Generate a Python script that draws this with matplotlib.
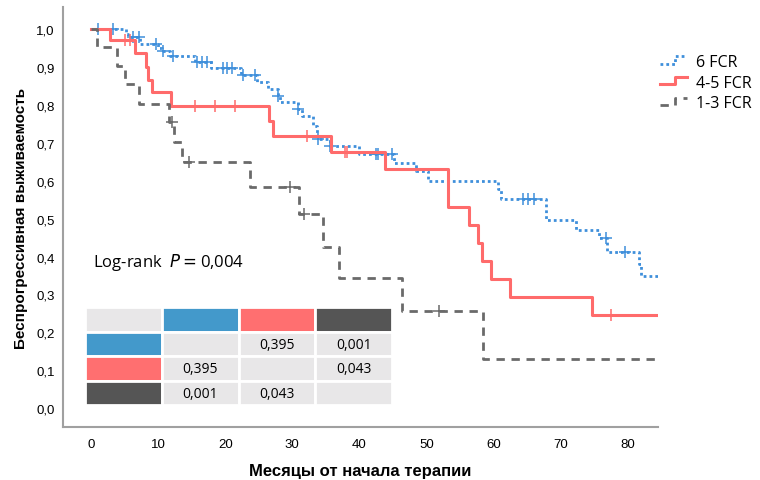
import matplotlib
matplotlib.use('Agg')
import matplotlib.pyplot as plt
from matplotlib.lines import Line2D
from matplotlib.legend_handler import HandlerBase

# step times (months) and survival after each step, per group
t6 = [0, 5.2, 5.5, 7.3, 9.9, 10.6, 11.8, 15.5, 17.9, 22.4, 24.8, 26.4, 27.8, 28.2, 30.9, 31.5,
      33.1, 33.7, 33.9, 35.7, 40.0, 45.2, 48.5, 50.3, 60.7, 61.2, 67.8, 72.4, 75.8, 77.0, 81.7,
      82.1, 84.6]
s6 = [1.0, 0.987, 0.978, 0.960, 0.951, 0.943, 0.930, 0.913, 0.897, 0.880, 0.861, 0.842, 0.824,
      0.807, 0.789, 0.770, 0.744, 0.727, 0.710, 0.691, 0.670, 0.648, 0.626, 0.600, 0.578, 0.551,
      0.497, 0.470, 0.448, 0.412, 0.380, 0.349, 0.349]
c6_t = [1.0, 3.3, 6.3, 7.2, 9.6, 10.7, 12.2, 15.8, 16.6, 17.3, 19.6, 20.3, 21.0, 22.6, 24.5,
        27.9, 30.9, 33.8, 35.7, 42.5, 42.8, 44.9, 64.5, 65.2, 66.0, 76.8, 79.7]
c6_s = [1.0, 1.0, 0.978, 0.978, 0.960, 0.943, 0.930, 0.913, 0.913, 0.913, 0.897, 0.897, 0.897,
        0.880, 0.880, 0.824, 0.789, 0.710, 0.691, 0.670, 0.670, 0.670, 0.551, 0.551, 0.551,
        0.448, 0.412]

t45 = [0, 2.8, 6.6, 8.2, 8.5, 9.1, 11.9, 26.6, 27.1, 35.8, 43.8, 53.3, 56.3, 57.7, 58.3, 59.7,
       62.5, 74.8, 84.6]
s45 = [1.0, 0.971, 0.937, 0.899, 0.866, 0.835, 0.798, 0.758, 0.718, 0.676, 0.631, 0.531, 0.483,
       0.435, 0.387, 0.340, 0.292, 0.246, 0.246]
c45_t = [5.1, 5.8, 15.5, 18.4, 21.5, 32.2, 37.8, 38.1, 77.5]
c45_s = [0.971, 0.971, 0.798, 0.798, 0.798, 0.718, 0.676, 0.676, 0.246]

t13 = [0, 0.85, 3.8, 5.0, 7.2, 11.6, 12.3, 13.6, 23.7, 31.0, 34.6, 37.0, 46.4, 58.4, 84.6]
s13 = [1.0, 0.952, 0.903, 0.855, 0.802, 0.755, 0.702, 0.649, 0.583, 0.512, 0.425, 0.343, 0.256,
       0.129, 0.129]
c13_t = [12.1, 14.6, 29.7, 31.8, 51.9]
c13_s = [0.755, 0.649, 0.583, 0.512, 0.256]

groups = ['6 FCR', '4-5 FCR', '1-3 FCR']
colors = ['#3F8FDB', '#FF6B6B', '#6A6A6A']
styles = [(0, (1, 1.1)), '-', (0, (3, 2.4))]

pair_p = [['', '0,395', '0,001'],
          ['0,395', '', '0,043'],
          ['0,001', '0,043', '']]
cell_colors = ['#4399CB', '#FF6F70', '#555555']
logrank_p = '0,004'

yticks = [0, 0.1, 0.2, 0.3, 0.4, 0.5, 0.6, 0.7, 0.8, 0.9, 1.0]
xticks = [0, 10, 20, 30, 40, 50, 60, 70, 80]

narrow = ['Liberation Sans Narrow', 'Liberation Sans', 'DejaVu Sans']


class StepHandler(HandlerBase):
    # legend handle drawn as a small step
    def __init__(self, ls):
        super().__init__()
        self.ls = ls

    def create_artists(self, legend, orig, xd, yd, w, h, fontsize, trans):
        xs = [xd, xd + w * 0.55, xd + w * 0.55, xd + w]
        ys = [-yd + h * 0.2, -yd + h * 0.2, -yd + h * 0.85, -yd + h * 0.85]
        ln = Line2D(xs, ys, color=orig.get_color(), linestyle=self.ls,
                    linewidth=orig.get_linewidth(), transform=trans)
        return [ln]


fig = plt.figure(figsize=(7.6, 4.81), dpi=100)
ax = fig.add_axes([0.083, 0.110, 0.783, 0.873])

curves = [(t6, s6, c6_t, c6_s), (t45, s45, c45_t, c45_s), (t13, s13, c13_t, c13_s)]
handles = []
hmap = {}
for (t, s, ct, cs), name, col, ls in zip(curves, groups, colors, styles):
    lw = 2.2 if ls == '-' else 2.0
    h, = ax.step(t, s, where='post', color=col, linestyle=ls, linewidth=lw, label=name)
    ax.plot(ct, cs, linestyle='none', marker='+', markersize=8, markeredgewidth=1.1, color=col)
    handles.append(h)
    hmap[h] = StepHandler(ls)

ax.set_xlim(-4.2, 84.6)
ax.set_ylim(-0.05, 1.058)
ax.set_xticks(xticks)
ax.set_xticklabels([str(v) for v in xticks], family=narrow, fontsize=9.5)
ax.set_yticks(yticks)
ax.set_yticklabels([f'{v:.1f}'.replace('.', ',') for v in yticks], family=narrow, fontsize=9.5)
ax.tick_params(length=0)
ax.tick_params(axis='x', pad=8)
ax.tick_params(axis='y', pad=6)
for side in ['top', 'right']:
    ax.spines[side].set_visible(False)
for side in ['left', 'bottom']:
    ax.spines[side].set_color('#A0A0A0')
    ax.spines[side].set_linewidth(1.5)

ax.set_xlabel('Месяцы от начала терапии', family=narrow, fontsize=12, fontweight='bold',
              labelpad=9)
ax.set_ylabel('Беспрогрессивная выживаемость', family=narrow, fontsize=11, fontweight='bold',
              labelpad=6)

ax.text(0.050, 0.395, 'Log-rank  $P = $' + logrank_p, transform=ax.transAxes,
        family='Open Sans', fontsize=12, va='center')

# pairwise comparison table
text = [[''] + [''] * 3] + [[''] + row for row in pair_p]
fills = [['#E8E7E8'] + cell_colors] + [[cell_colors[i]] + ['#E8E7E8'] * 3 for i in range(3)]
tab = ax.table(cellText=text, cellColours=fills, cellLoc='center',
               bbox=[0.037, 0.052, 0.516, 0.233])
tab.auto_set_font_size(False)
for cell in tab.get_celld().values():
    cell.set_edgecolor('white')
    cell.set_linewidth(2)
    cell.get_text().set_fontsize(10)
    cell.get_text().set_family('Open Sans')

fig.legend(handles=handles, labels=groups, loc='upper left', bbox_to_anchor=(0.868, 0.886),
           frameon=False, prop={'family': 'Open Sans', 'size': 11.5}, handlelength=1.7,
           handletextpad=0.6, labelspacing=0.3, borderpad=0, borderaxespad=0,
           handler_map=hmap)

fig.savefig('out.png', dpi=100)
